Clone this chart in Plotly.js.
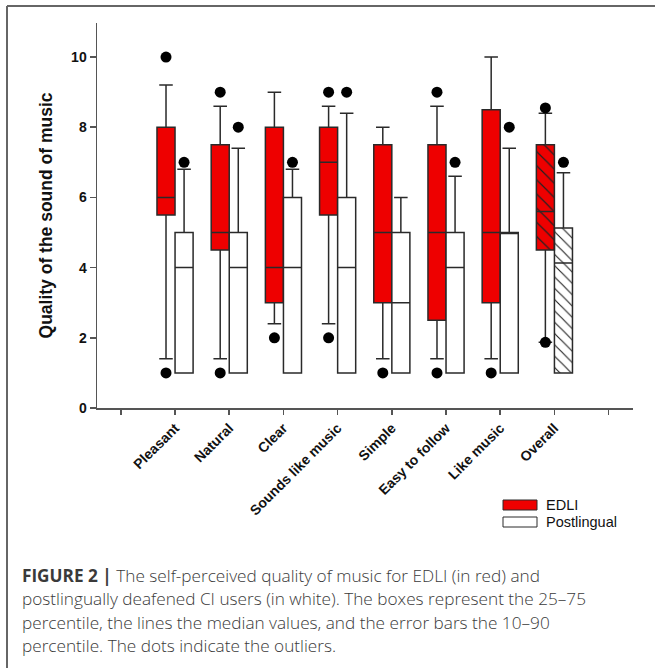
<!DOCTYPE html>
<html>
<head>
<meta charset="utf-8">
<script src="https://cdn.plot.ly/plotly-3.0.1.min.js"></script>
<style>
  html, body { margin: 0; padding: 0; background: #fff; }
  #chart { width: 655px; height: 668px; }
</style>
</head>
<body>
<div id="chart"></div>
<script>
// ---------- DATA ----------
const categories = ['Pleasant', 'Natural', 'Clear', 'Sounds like music', 'Simple', 'Easy to follow', 'Like music', 'Overall'];

// EDLI (red): 10th, 25th, median, 75th, 90th percentiles
const edliP10    = [1.4, 1.4, 2.4, 2.4, 1.4, 1.4, 1.4, 1.87];
const edliQ1     = [5.5, 4.5, 3.0, 5.5, 3.0, 2.5, 3.0, 4.5];
const edliMedian = [6.0, 5.0, 4.0, 7.0, 5.0, 5.0, 5.0, 5.6];
const edliQ3     = [8.0, 7.5, 8.0, 8.0, 7.5, 7.5, 8.5, 7.5];
const edliP90    = [9.2, 8.6, 9.0, 8.6, 8.0, 8.6, 10.0, 8.4];
const edliOutlierCat = ['Pleasant', 'Pleasant', 'Natural', 'Natural', 'Clear', 'Sounds like music', 'Sounds like music', 'Simple', 'Easy to follow', 'Easy to follow', 'Like music', 'Overall', 'Overall'];
const edliOutlierVal = [10, 1, 9, 1, 2, 9, 2, 1, 9, 1, 1, 8.55, 1.87];

// Postlingual (white)
const postP10    = [1, 1, 1, 1, 1, 1, 1, 1];
const postQ1     = [1, 1, 1, 1, 1, 1, 1, 1];
const postMedian = [4, 4, 4, 4, 3, 4, 5, 4.13];
const postQ3     = [5, 5, 6, 6, 5, 5, 5, 5.13];
const postP90    = [6.8, 7.4, 6.8, 8.4, 6.0, 6.6, 7.4, 6.7];
const postOutlierCat = ['Pleasant', 'Natural', 'Clear', 'Sounds like music', 'Easy to follow', 'Like music', 'Overall'];
const postOutlierVal = [7, 8, 7, 9, 7, 8, 7];

const yTicks = [0, 2, 4, 6, 8, 10];
const seriesNames = ['EDLI', 'Postlingual'];
const captionBold = 'FIGURE 2 |';
const captionLines = [
  'The self-perceived quality of music for EDLI (in red) and',
  'postlingually deafened CI users (in white). The boxes represent the 25\u201375',
  'percentile, the lines the median values, and the error bars the 10\u201390',
  'percentile. The dots indicate the outliers.'
];

// ---------- STYLE / LAYOUT HELPERS ----------
const RED = '#ee0000';
const LINE = '#2a2a2a';
const AXIS = '#555555';
const FONT = 'Liberation Sans, Arial, sans-serif';
const CAPFONT = 'Open Sans, Liberation Sans, Arial, sans-serif';
const W = 655, H = 668;
const M = {l: 97, r: 22, t: 23, b: 260};
const PW = W - M.l - M.r, PH = H - M.t - M.b;
const px2x = p => (p - M.l) / PW;
const py2y = p => (H - M.b - p) / PH;

const HALF = 0.1667;        // offset of each box from the category tick
const BOXW = 0.333;         // box width in axis units
const catPos = categories.map((c, i) => i + 1);
const posOf = c => categories.indexOf(c) + 1;
const mainIdx = categories.map((c, i) => i).filter(i => categories[i] !== 'Overall');
const overallIdx = categories.indexOf('Overall');
const pick = (arr, idx) => idx.map(i => arr[i]);

function boxTrace(idx, shift, p10, q1, med, q3, p90, fill) {
  return {
    type: 'box',
    x: idx.map(i => catPos[i] + shift),
    lowerfence: pick(p10, idx),
    q1: pick(q1, idx),
    median: pick(med, idx),
    q3: pick(q3, idx),
    upperfence: pick(p90, idx),
    width: BOXW,
    whiskerwidth: 0.75,
    fillcolor: fill,
    line: {color: LINE, width: 1.5},
    boxpoints: false,
    hoverinfo: 'skip',
    showlegend: false
  };
}

const traces = [];
// Hatched bars for Overall (drawn under boxes)
traces.push({
  type: 'bar',
  x: [catPos[overallIdx] - HALF],
  base: [edliQ1[overallIdx]],
  y: [edliQ3[overallIdx] - edliQ1[overallIdx]],
  width: BOXW,
  marker: {color: RED, line: {width: 0},
           pattern: {shape: '\\', bgcolor: RED, fgcolor: '#222', size: 10, solidity: 0.12}},
  hoverinfo: 'skip', showlegend: false
});
traces.push({
  type: 'bar',
  x: [catPos[overallIdx] + HALF],
  base: [postQ1[overallIdx]],
  y: [postQ3[overallIdx] - postQ1[overallIdx]],
  width: BOXW,
  marker: {color: '#ffffff', line: {width: 0},
           pattern: {shape: '\\', bgcolor: '#ffffff', fgcolor: '#222', size: 8, solidity: 0.14}},
  hoverinfo: 'skip', showlegend: false
});

traces.push(boxTrace(mainIdx, -HALF, edliP10, edliQ1, edliMedian, edliQ3, edliP90, RED));
traces.push(boxTrace(mainIdx, HALF, postP10, postQ1, postMedian, postQ3, postP90, '#ffffff'));
traces.push(boxTrace([overallIdx], -HALF, edliP10, edliQ1, edliMedian, edliQ3, edliP90, 'rgba(0,0,0,0)'));
traces.push(boxTrace([overallIdx], HALF, postP10, postQ1, postMedian, postQ3, postP90, 'rgba(0,0,0,0)'));

// Outliers
traces.push({
  type: 'scatter', mode: 'markers',
  x: edliOutlierCat.map(c => posOf(c) - HALF), y: edliOutlierVal,
  marker: {color: '#000', size: 11}, cliponaxis: false, hoverinfo: 'skip', showlegend: false
});
traces.push({
  type: 'scatter', mode: 'markers',
  x: postOutlierCat.map(c => posOf(c) + HALF), y: postOutlierVal,
  marker: {color: '#000', size: 11}, cliponaxis: false, hoverinfo: 'skip', showlegend: false
});

// ---------- LEGEND (drawn) + FRAME + CAPTION ----------
const shapes = [
  // figure frame (left + top edges)
  {type: 'line', xref: 'paper', yref: 'paper', x0: px2x(7), x1: px2x(7), y0: py2y(6), y1: py2y(H + 5), line: {color: '#666', width: 2}},
  {type: 'line', xref: 'paper', yref: 'paper', x0: px2x(7), x1: px2x(W + 5), y0: py2y(6), y1: py2y(6), line: {color: '#666', width: 2}},
  // legend swatches
  {type: 'rect', xref: 'paper', yref: 'paper', x0: px2x(503), x1: px2x(537), y0: py2y(500), y1: py2y(510), fillcolor: RED, line: {color: LINE, width: 1}},
  {type: 'rect', xref: 'paper', yref: 'paper', x0: px2x(503), x1: px2x(537), y0: py2y(517), y1: py2y(527), fillcolor: '#fff', line: {color: LINE, width: 1}}
];

const annotations = [
  {xref: 'paper', yref: 'paper', x: px2x(544), y: py2y(505), xanchor: 'left', yanchor: 'middle', showarrow: false,
   text: seriesNames[0], font: {family: FONT, size: 14.5, color: '#111'}},
  {xref: 'paper', yref: 'paper', x: px2x(544), y: py2y(522), xanchor: 'left', yanchor: 'middle', showarrow: false,
   text: seriesNames[1], font: {family: FONT, size: 14.5, color: '#111'}}
];
const capY = [575, 598, 622, 645];
captionLines.forEach((t, i) => {
  annotations.push({
    xref: 'paper', yref: 'paper', x: px2x(20), y: py2y(capY[i]), xanchor: 'left', yanchor: 'middle',
    showarrow: false, align: 'left',
    text: (i === 0 ? '<b>' + captionBold + '</b> ' : '') + t,
    font: {family: CAPFONT, size: 17.2, weight: 300, color: '#3a3a3a'}
  });
});

const layout = {
  width: W, height: H,
  margin: M,
  paper_bgcolor: '#fff', plot_bgcolor: '#fff',
  showlegend: false,
  barmode: 'overlay',
  boxmode: 'overlay',
  font: {family: FONT, color: '#111'},
  xaxis: {
    range: [-0.44, 9.45],
    tickmode: 'array',
    tickvals: [0].concat(catPos, [categories.length + 1]),
    ticktext: [''].concat(categories, ['']),
    tickangle: -45,
    ticks: 'outside', ticklen: 5, tickwidth: 1.5, tickcolor: AXIS,
    showline: true, linecolor: AXIS, linewidth: 1.5,
    showgrid: false, zeroline: false,
    tickfont: {family: FONT, size: 14, weight: 'bold', color: '#111'},
    automargin: false
  },
  yaxis: {
    range: [0, 10.97],
    tickmode: 'array', tickvals: yTicks, ticktext: yTicks.map(String),
    ticks: 'outside', ticklen: 6, tickwidth: 1.5, tickcolor: AXIS,
    showline: true, linecolor: AXIS, linewidth: 1.5,
    showgrid: false, zeroline: false,
    tickfont: {family: FONT, size: 14, weight: 'bold', color: '#111'},
    title: {text: 'Quality of the sound of music', font: {family: FONT, size: 17.5, weight: 'bold', color: '#111'}, standoff: 14},
    automargin: false
  },
  shapes: shapes,
  annotations: annotations
};

Plotly.newPlot('chart', traces, layout, {displayModeBar: false, staticPlot: true});
</script>
</body>
</html>
